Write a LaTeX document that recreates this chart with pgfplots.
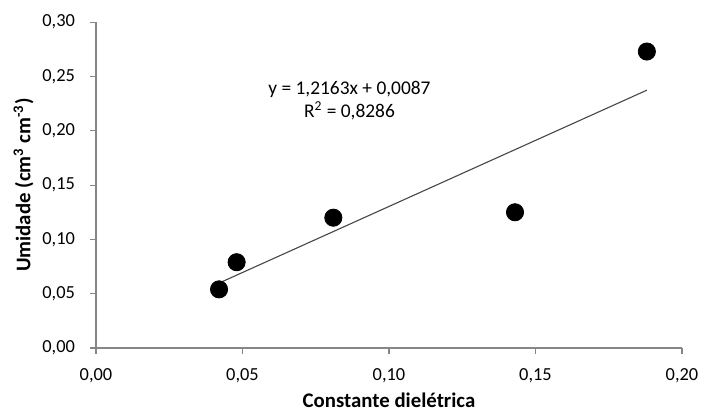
\documentclass[border=0pt]{standalone}
\usepackage{fontspec}
\setmainfont{Carlito}
\usepackage{pgfplots}
\pgfplotsset{compat=1.18}

\definecolor{axisgray}{RGB}{134,134,134}
\definecolor{trendgray}{RGB}{70,70,70}

\begin{document}
\begin{tikzpicture}
\path[use as bounding box] (0,0) rectangle (352pt,207pt);
\begin{axis}[
  scale only axis,
  width=293pt, height=162.9pt,
  at={(48pt,33pt)}, anchor=south west,
  xmin=0, xmax=0.20, ymin=0, ymax=0.30,
  xtick={0,0.05,0.10,0.15,0.20},
  ytick={0,0.05,0.10,0.15,0.20,0.25,0.30},
  axis x line=bottom, axis y line=left,
  axis line style={axisgray, line width=0.6pt, -},
  tick style={axisgray, line width=0.6pt},
  tick align=outside,
  major tick length=3pt,
  x tick label style={font=\fontsize{9.2}{11}\selectfont, yshift=-3.5pt},
  y tick label style={font=\fontsize{9.2}{11}\selectfont, xshift=-4pt},
  /pgf/number format/assume math mode=true,
  /pgf/number format/.cd, use comma, fixed, fixed zerofill, precision=2,
  /pgfplots/.cd,
  scaled ticks=false,
  xlabel={\bfseries Constante dielétrica},
  ylabel={\bfseries Umidade (cm\textsuperscript{3} cm\textsuperscript{-3})},
  label style={font=\fontsize{10.4}{12}\selectfont},
  xlabel style={yshift=-0.5pt, inner ysep=1pt},
  ylabel style={yshift=-2.5pt},
  clip=false,
]
% linear trendline y = 1.2163x + 0.0087 over the data range
\addplot[trendgray, line width=0.55pt] coordinates {(0.042,0.0598) (0.188,0.2374)};
% measurements
\addplot[only marks, mark=*, mark size=4.3pt, mark options={fill=black, draw=black}]
  coordinates {
    (0.042,0.054)
    (0.048,0.079)
    (0.081,0.120)
    (0.143,0.125)
    (0.188,0.273)
  };
\node[font=\fontsize{9.7}{11.5}\selectfont, align=center] at (axis cs:0.0865,0.228)
  {y = 1,2163x + 0,0087\\R\textsuperscript{2} = 0,8286};
\end{axis}
\end{tikzpicture}
\end{document}
